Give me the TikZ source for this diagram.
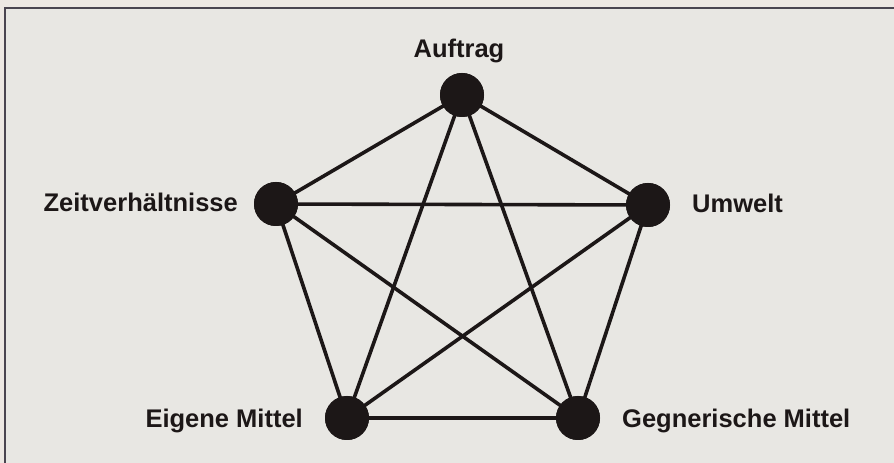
\documentclass[tikz,border=0pt]{standalone}
\usepackage{fontspec}
\setmainfont{Liberation Sans}
\definecolor{paper}{HTML}{EDE8E3}
\definecolor{inner}{HTML}{E8E7E3}
\definecolor{framec}{HTML}{4A4550}
\definecolor{ink}{HTML}{1C1717}
\begin{document}
\begin{tikzpicture}[x=1pt,y=1pt,
  dot/.style={circle,fill=ink,draw=none,minimum size=44pt,inner sep=0pt},
  lbl/.style={inner sep=0pt,font=\fontsize{25.5}{28}\selectfont\bfseries,text=ink},
  edge/.style={draw=ink,line width=3.6pt}]
\useasboundingbox (0,0) rectangle (894,463);
\fill[paper] (0,0) rectangle (894,463);
\fill[inner] (5,-5) rectangle (900,455);
\draw[framec,line width=1.5pt] (5,-5) -- (5,455) -- (900,455);
\node[dot] (a) at (462,368) {};
\node[dot] (z) at (276,259) {};
\node[dot] (u) at (648,258) {};
\node[dot] (e) at (347,45) {};
\node[dot] (g) at (578,45) {};
\foreach \p/\q in {a/z,a/u,a/e,a/g,z/u,z/e,z/g,u/e,u/g,e/g}
  \draw[edge] (\p.center) -- (\q.center);
\node[dot] at (a) {};
\node[dot] at (z) {};
\node[dot] at (u) {};
\node[dot] at (e) {};
\node[dot] at (g) {};
\node[lbl,anchor=base] (la) at (459,405) {Auftrag};
\node[lbl,anchor=base east] (lz) at (238,251) {Zeitverhältnisse};
\node[lbl,anchor=base west] (lu) at (692,250) {Umwelt};
\node[lbl,anchor=base east] (le) at (303,35) {Eigene Mittel};
\node[lbl,anchor=base west] (lg) at (622,35) {Gegnerische Mittel};
\end{tikzpicture}
\end{document}
